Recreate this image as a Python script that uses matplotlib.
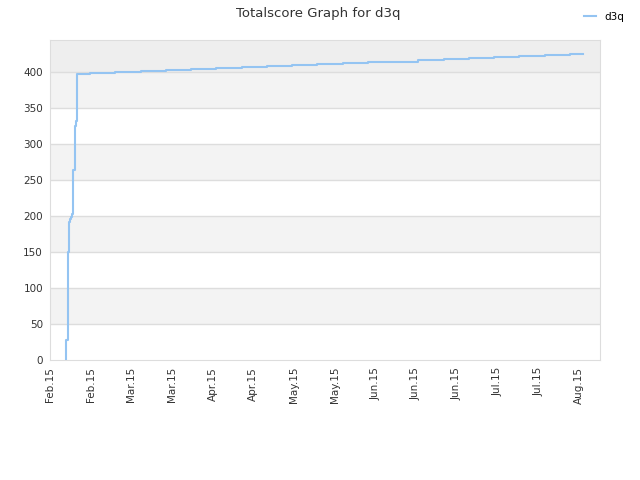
import matplotlib
matplotlib.use("Agg")
import matplotlib.pyplot as plt
import matplotlib.dates as mdates
import pandas as pd

# score history of d3q
dates = ["2015-02-15 11:30", "2015-02-15 11:30",
         "2015-02-16 04:00", "2015-02-16 04:00",
         "2015-02-16 15:00", "2015-02-16 23:00", "2015-02-17 07:00",
         "2015-02-17 16:00", "2015-02-18 02:00", "2015-02-18 14:00",
         "2015-02-18 22:00", "2015-02-19 09:00",
         "2015-02-23 21:00", "2015-03-04 13:00", "2015-03-13 06:00",
         "2015-03-21 22:00", "2015-03-30 15:00", "2015-04-08 07:00",
         "2015-04-17 00:00", "2015-04-25 17:00", "2015-05-04 10:00",
         "2015-05-13 02:00", "2015-05-21 19:00", "2015-05-30 10:00",
         "2015-06-08 02:00", "2015-06-16 19:00", "2015-06-25 12:00",
         "2015-07-04 05:00", "2015-07-12 22:00", "2015-07-21 14:00",
         "2015-07-30 07:00", "2015-08-08 00:00", "2015-08-12 12:00"]
scores = [0, 28,
          30, 150,
          192, 195, 199,
          203, 264, 324,
          331, 396,
          398, 399.5, 401,
          402.5, 404, 405.3,
          406.7, 408, 409.3,
          410.5, 411.7, 412.8,
          413.9, 415.7, 417,
          418.5, 420, 421.3,
          422.7, 424, 424]

tick_dates = ["2015-02-10", "2015-02-24", "2015-03-10", "2015-03-24",
              "2015-04-07", "2015-04-21", "2015-05-05", "2015-05-19",
              "2015-06-02", "2015-06-16", "2015-06-30", "2015-07-14",
              "2015-07-28", "2015-08-11"]
y_ticks = [0, 50, 100, 150, 200, 250, 300, 350, 400]

x = pd.to_datetime(dates)
ticks = pd.to_datetime(tick_dates)

fig = plt.figure(figsize=(6.4, 4.8), dpi=100)
ax = fig.add_axes([0.078, 0.25, 0.86, 0.667])

ymax = 444
# alternating bands
ax.axhspan(400, ymax, color="#eeeeee", zorder=0, lw=0)
for lo in [50, 150, 250, 350]:
    ax.axhspan(lo, lo + 50, color="#f3f3f3", zorder=0, lw=0)
for y in y_ticks[1:]:
    ax.axhline(y, color="#dddddd", lw=1, zorder=1)

ax.plot(x, scores, drawstyle="steps-post", color="#94c4f2", lw=1.5,
        zorder=3, label="d3q")

ax.set_ylim(0, ymax)
ax.set_xlim(pd.Timestamp("2015-02-10"), pd.Timestamp("2015-08-18 10:00"))
ax.set_yticks(y_ticks)
ax.set_xticks(ticks)
ax.xaxis.set_major_formatter(mdates.DateFormatter("%b.%y"))
plt.setp(ax.get_xticklabels(), rotation=90)
ax.tick_params(axis="both", length=0, labelsize=7.5, colors="#333333", pad=5)

for s in ax.spines.values():
    s.set_color("#dddddd")

fig.suptitle("Totalscore Graph for d3q", x=0.497, y=0.985, fontsize=9.5,
             color="#333333")
fig.legend(loc="upper right", bbox_to_anchor=(0.99, 0.995), frameon=False,
           fontsize=7.5, handlelength=1.2)

fig.savefig("out.png")
